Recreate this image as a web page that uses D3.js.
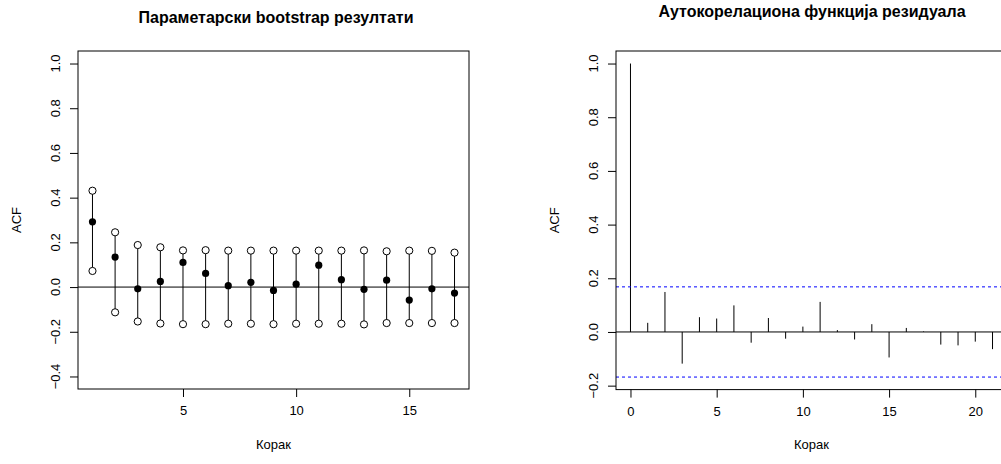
<!DOCTYPE html>
<html>
<head>
<meta charset="utf-8">
<script src="https://cdn.jsdelivr.net/npm/d3@7"></script>
<style>
  body { margin: 0; background: #fff; }
  text { font-family: "Liberation Sans", Arial, sans-serif; fill: #000; }
</style>
</head>
<body>
<svg id="chart" width="1001" height="464"></svg>
<script>
// left panel: parametric bootstrap ACF (lags 1..17)
const bootLags = d3.range(1, 18)
const bootAcf = [0.292, 0.134, -0.008, 0.025, 0.110, 0.061, 0.006, 0.021, -0.015, 0.013, 0.098, 0.033, -0.010, 0.031, -0.058, -0.008, -0.027]
const bootLower = [0.072, -0.113, -0.154, -0.163, -0.166, -0.166, -0.164, -0.164, -0.166, -0.164, -0.164, -0.164, -0.167, -0.161, -0.161, -0.161, -0.161]
const bootUpper = [0.431, 0.245, 0.188, 0.178, 0.164, 0.165, 0.163, 0.163, 0.163, 0.163, 0.163, 0.163, 0.164, 0.160, 0.163, 0.162, 0.154]
const leftYTicks = [-0.4, -0.2, 0, 0.2, 0.4, 0.6, 0.8, 1.0]
const leftXTicks = [5, 10, 15]

// right panel: residual ACF (lags 0..21)
const resLags = d3.range(0, 22)
const resAcf = [1.0, 0.034, 0.149, -0.118, 0.055, 0.050, 0.099, -0.040, 0.052, -0.025, 0.020, 0.112, 0.007, -0.028, 0.029, -0.095, 0.015, 0.002, -0.047, -0.050, -0.036, -0.064]
const confLimit = 0.168
const rightYTicks = [-0.2, 0, 0.2, 0.4, 0.6, 0.8, 1.0]
const rightXTicks = [0, 5, 10, 15, 20]

const svg = d3.select("#chart")
const fmt = d3.format(".1f")
const lbl = (v) => fmt(v).replace("-", "\u2212")

// R style 4% padding
const pad = (lo, hi) => {
  const d = (hi - lo) * 0.04
  return [lo - d, hi + d]
}

function frame(g, x, y, xTicks, yTicks, opts) {
  const [x0, x1] = x.range()
  const [y0, y1] = y.range()
  g.append("rect")
    .attr("x", x0).attr("y", y1)
    .attr("width", x1 - x0).attr("height", y0 - y1)
    .attr("fill", "none").attr("stroke", "#000").attr("stroke-width", 1)

  g.append("g")
    .attr("transform", `translate(0,${y0})`)
    .call(d3.axisBottom(x).tickValues(xTicks).tickSize(8).tickPadding(9).tickSizeOuter(0).tickFormat(d3.format("d")))
    .call((a) => a.select(".domain").remove())
    .call((a) => a.selectAll("text").attr("font-size", 13).attr("font-family", "Liberation Sans, Arial, sans-serif"))

  const ya = g.append("g")
    .attr("transform", `translate(${x0},0)`)
    .call(d3.axisLeft(y).tickValues(yTicks).tickSize(8).tickFormat(() => ""))
  ya.select(".domain").remove()

  g.selectAll(null)
    .data(yTicks)
    .join("text")
    .attr("transform", (d) => `translate(${x0 - 18},${y(d)}) rotate(-90)`)
    .attr("text-anchor", "middle")
    .attr("font-size", 13)
    .text(lbl)

  g.append("text")
    .attr("transform", `translate(${x0 - 57},${(y0 + y1) / 2}) rotate(-90)`)
    .attr("text-anchor", "middle")
    .attr("font-size", 13)
    .text("ACF")

  g.append("text")
    .attr("x", (x0 + x1) / 2).attr("y", 449)
    .attr("text-anchor", "middle")
    .attr("font-size", 13)
    .text("Корак")

  g.append("text")
    .attr("x", opts.titleX).attr("y", opts.titleY)
    .attr("text-anchor", "middle")
    .attr("font-size", 16)
    .attr("font-weight", "bold")
    .text(opts.title)
}

// ---- left panel
{
  const x = d3.scaleLinear().domain(pad(1, 17)).range([78, 469])
  const y = d3.scaleLinear().domain(pad(-0.4, 1.0)).range([389, 51])
  const g = svg.append("g")

  g.append("line")
    .attr("x1", x.range()[0]).attr("x2", x.range()[1])
    .attr("y1", y(0)).attr("y2", y(0))
    .attr("stroke", "#000")

  const rows = bootLags.map((l, i) => ({l, v: bootAcf[i], lo: bootLower[i], hi: bootUpper[i]}))

  g.selectAll("line.seg")
    .data(rows)
    .join("line")
    .attr("class", "seg")
    .attr("x1", (d) => x(d.l)).attr("x2", (d) => x(d.l))
    .attr("y1", (d) => y(d.lo)).attr("y2", (d) => y(d.hi))
    .attr("stroke", "#000")

  for (const k of ["lo", "hi"]) {
    g.selectAll(null)
      .data(rows)
      .join("circle")
      .attr("cx", (d) => x(d.l)).attr("cy", (d) => y(d[k]))
      .attr("r", 3.6)
      .attr("fill", "#fff").attr("stroke", "#000")
  }

  g.selectAll(null)
    .data(rows)
    .join("circle")
    .attr("cx", (d) => x(d.l)).attr("cy", (d) => y(d.v))
    .attr("r", 3.6)
    .attr("fill", "#000")

  frame(g, x, y, leftXTicks, leftYTicks, {title: "Параметарски bootstrap резултати", titleX: 276, titleY: 23})
}

// ---- right panel
{
  const x = d3.scaleLinear().domain(pad(0, 21)).range([616, 1007])
  const y = d3.scaleLinear().domain(pad(-confLimit, 1.0)).range([389.6, 51])
  const g = svg.append("g")

  g.append("line")
    .attr("x1", x.range()[0]).attr("x2", x.range()[1])
    .attr("y1", y(0)).attr("y2", y(0))
    .attr("stroke", "#000")

  g.selectAll("line.bar")
    .data(resLags)
    .join("line")
    .attr("class", "bar")
    .attr("x1", (d) => x(d)).attr("x2", (d) => x(d))
    .attr("y1", y(0)).attr("y2", (d, i) => y(resAcf[i]))
    .attr("stroke", "#000")

  g.selectAll("line.ci")
    .data([confLimit, -confLimit])
    .join("line")
    .attr("class", "ci")
    .attr("x1", x.range()[0]).attr("x2", x.range()[1])
    .attr("y1", (d) => y(d)).attr("y2", (d) => y(d))
    .attr("stroke", "#0000ff")
    .attr("stroke-dasharray", "3,3")

  frame(g, x, y, rightXTicks, rightYTicks, {title: "Аутокорелациона функција резидуала", titleX: 812, titleY: 17})
}
</script>
</body>
</html>
